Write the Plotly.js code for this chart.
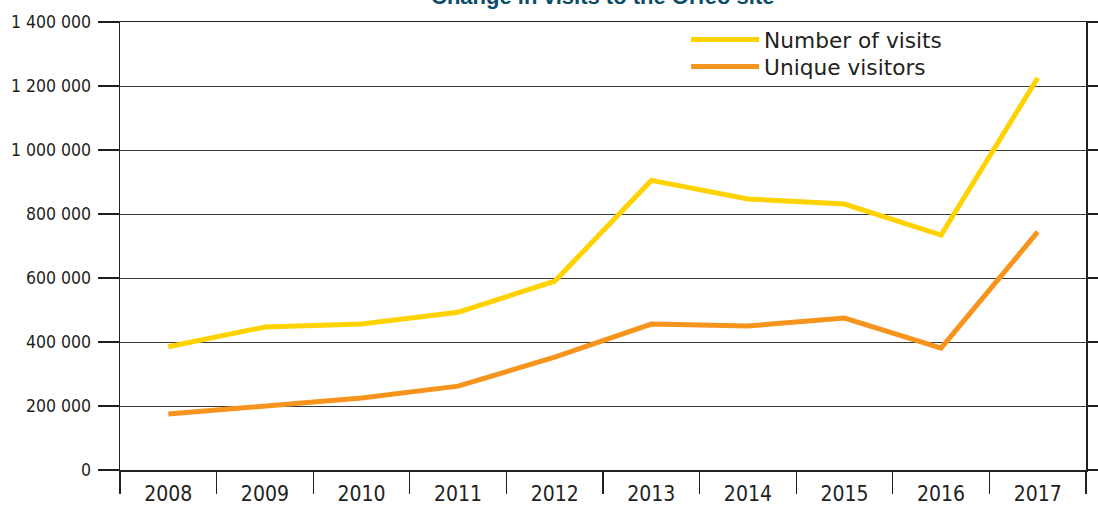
<!DOCTYPE html>
<html>
<head>
<meta charset="utf-8">
<script src="https://cdn.plot.ly/plotly-3.0.1.min.js"></script>
<style>
  html, body { margin: 0; padding: 0; background: #fff; }
  #chart { width: 1098px; height: 508px; }
</style>
</head>
<body>
<div id="chart"></div>
<script>
// ---------------------------------------------------
// Data
// ---------------------------------------------------
const years = ["2008", "2009", "2010", "2011", "2012", "2013", "2014", "2015", "2016", "2017"];
const visits = [385000, 447000, 456000, 493000, 590000, 905000, 847000, 831000, 734000, 1225000];
const uniqueVisitors = [175000, 200000, 225000, 262000, 353000, 456000, 450000, 475000, 381000, 744000];
const chartTitle = "Change in visits to the Orfeo site";

const YELLOW = "#ffd200";
const ORANGE = "#f7941d";
const INK = "#231f20";

// ---------------------------------------------------
// Plotting
// ---------------------------------------------------
const traceVisits = {
  x: years,
  y: visits,
  name: "Number of visits",
  mode: "lines",
  type: "scatter",
  line: { color: YELLOW, width: 5 },
  legend: "legend",
};
const traceUnique = {
  x: years,
  y: uniqueVisitors,
  name: "Unique visitors",
  mode: "lines",
  type: "scatter",
  line: { color: ORANGE, width: 5 },
  legend: "legend2",
};

const condensed = "DejaVu Sans Condensed";
const legendFont = { family: "DejaVu Sans", size: 21.7, color: INK };

// one legend per entry so the rows sit closer together
const legendBox = (y) => ({
  x: 0.586,
  xanchor: "left",
  y: y,
  yanchor: "middle",
  bgcolor: "rgba(0,0,0,0)",
  itemwidth: 68,
  font: legendFont,
});

const layout = {
  width: 1098,
  height: 508,
  autosize: false,
  paper_bgcolor: "#fff",
  plot_bgcolor: "#fff",
  separators: ". ",
  margin: { l: 120, r: 12, t: 22, b: 38, pad: 0 },
  annotations: [
    {
      // title sits mostly above the visible area, as in the original crop
      text: "<b>" + chartTitle + "</b>",
      font: { family: "Liberation Sans", size: 22, color: "#0b4d68" },
      xref: "paper",
      yref: "paper",
      x: 0.5,
      y: 1.0246,
      xanchor: "center",
      yanchor: "bottom",
      showarrow: false,
    },
  ],
  showlegend: true,
  legend: legendBox(0.96),
  legend2: legendBox(0.9),
  xaxis: {
    type: "category",
    range: [-0.5, 9.5],
    tickson: "boundaries",
    ticks: "outside",
    ticklen: 22,
    tickwidth: 1.3,
    tickcolor: INK,
    ticklabelstandoff: 4,
    showgrid: false,
    showline: true,
    linecolor: INK,
    linewidth: 1.5,
    mirror: true,
    tickfont: { family: condensed, size: 21, color: INK },
    fixedrange: true,
  },
  yaxis: {
    range: [0, 1400000],
    dtick: 200000,
    tickformat: ",d",
    ticks: "outside",
    ticklen: 21,
    tickwidth: 1.3,
    tickcolor: INK,
    ticklabelstandoff: 3,
    showgrid: true,
    gridcolor: "#3a3a3a",
    gridwidth: 1,
    zeroline: false,
    showline: true,
    linecolor: INK,
    linewidth: 1.5,
    mirror: "ticks",
    tickfont: { family: condensed, size: 17.5, color: INK },
    fixedrange: true,
  },
  hovermode: false,
};

Plotly.newPlot("chart", [traceVisits, traceUnique], layout, { displayModeBar: false, staticPlot: true });
</script>
</body>
</html>
